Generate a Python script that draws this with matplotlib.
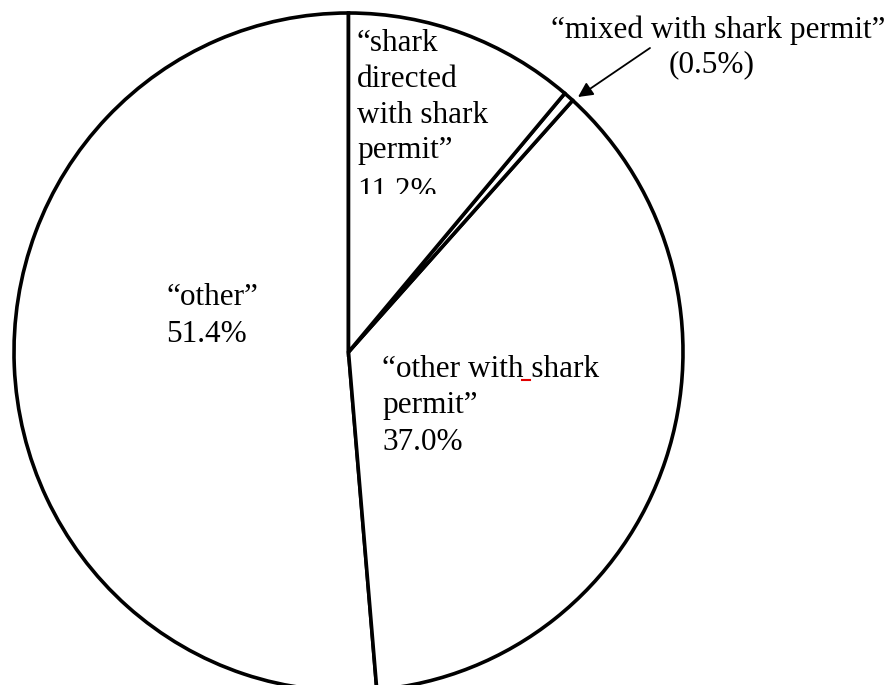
import matplotlib
matplotlib.use("Agg")
import matplotlib.pyplot as plt
from matplotlib.transforms import Bbox

# Data
categories = ["\u201cother\u201d", "\u201cother with shark permit\u201d",
              "\u201cmixed with shark permit\u201d",
              "\u201cshark directed with shark permit\u201d"]
shares = [51.4, 37.0, 0.5, 11.2]
pct_labels = ["51.4%", "37.0%", "(0.5%)", "11.2%"]

W, H = 894, 685
fig = plt.figure(figsize=(W / 100, H / 100), dpi=100)
ax = fig.add_axes([0, 0, 1, 1])

# pie geometry in pixels (top-left origin)
cx, cy, rx, ry = 348.5, 352.0, 334.5, 339.0
ax.pie(shares, startangle=90, counterclock=True,
       colors=["white"] * len(shares),
       wedgeprops=dict(edgecolor="black", linewidth=2.6))
ax.set_aspect("auto")
ax.set_xlim((0 - cx) / rx, (W - cx) / rx)
ax.set_ylim((cy - H) / ry, cy / ry)
ax.axis("off")

FONT = ["Liberation Serif", "DejaVu Serif"]
FS = 22.5


def ptext(x, y, s, ha="left", **kw):
    """place text with baseline at pixel (x, y) from top-left"""
    return fig.text(x / W, 1 - y / H, s, ha=ha, va="baseline",
                    family=FONT, fontsize=FS, color="black", **kw)


# "other"
ptext(166, 305, "\u201cother\u201d")
ptext(166, 342, pct_labels[0])

# "other with shark permit"
ptext(382, 377, "\u201cother with shark")
ptext(382, 413, "permit\u201d")
ptext(382, 450, pct_labels[1])
# spell-check mark
fig.add_artist(plt.Line2D([522 / W, 530 / W], [1 - 380 / H, 1 - 380 / H],
                          color="#e00000", lw=1.5))

# "shark directed with shark permit" (bottom line clipped)
clip = Bbox([[0, H - 194], [W, H]])
lines = ["\u201cshark", "directed", "with shark", "permit\u201d", pct_labels[3]]
baselines = [51, 87, 123, 158, 199]
for s, yb in zip(lines, baselines):
    t = ptext(357, yb, s)
    t.set_clip_on(True)
    t.set_clip_box(clip)

# "mixed with shark permit" callout
ptext(718, 38, "\u201cmixed with shark permit\u201d", ha="center")
ptext(712, 72, pct_labels[2], ha="center")
fig.add_artist(matplotlib.patches.FancyArrowPatch(
    (650 / W, 1 - 48 / H), (578 / W, 1 - 97 / H),
    transform=fig.transFigure, arrowstyle="-|>", mutation_scale=22,
    color="black", lw=1.3, shrinkA=0, shrinkB=0))

fig.savefig("out.png", dpi=100, facecolor="white")
